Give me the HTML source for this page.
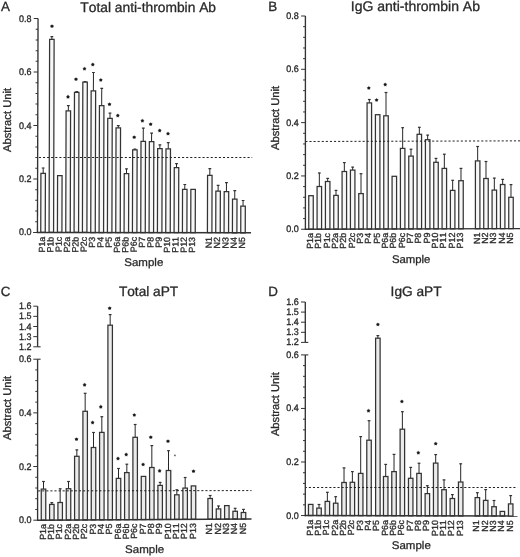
<!DOCTYPE html>
<html><head><meta charset="utf-8"><style>
html,body{margin:0;padding:0;background:#fff;}
svg{display:block;filter:grayscale(1);text-rendering:geometricPrecision;}
text{font-family:"Liberation Sans",sans-serif;font-kerning:none;stroke:#2a2a2a;stroke-width:0.3px;}
</style></head><body>
<svg width="520" height="557" viewBox="0 0 520 557">
<rect width="520" height="557" fill="#fff"/>
<g transform="translate(0 232.30) skewX(-0.160) translate(0 -232.30)">
<line x1="43.00" y1="173.30" x2="43.00" y2="167.80" stroke="#262626" stroke-width="1.00"/>
<line x1="41.60" y1="168.00" x2="44.40" y2="168.00" stroke="#333" stroke-width="1.2"/>
<rect x="40.75" y="173.40" width="4.50" height="59.01" fill="#f7f7f7" stroke="#333" stroke-width="1.25"/>
<line x1="51.33" y1="39.20" x2="51.33" y2="36.50" stroke="#262626" stroke-width="1.00"/>
<line x1="49.93" y1="36.70" x2="52.73" y2="36.70" stroke="#333" stroke-width="1.2"/>
<rect x="49.08" y="39.30" width="4.50" height="193.12" fill="#f7f7f7" stroke="#333" stroke-width="1.25"/>
<rect x="57.42" y="175.60" width="4.50" height="56.84" fill="#f7f7f7" stroke="#333" stroke-width="1.25"/>
<line x1="68.00" y1="110.80" x2="68.00" y2="105.40" stroke="#262626" stroke-width="1.00"/>
<line x1="66.60" y1="105.60" x2="69.40" y2="105.60" stroke="#333" stroke-width="1.2"/>
<rect x="65.75" y="110.90" width="4.50" height="121.55" fill="#f7f7f7" stroke="#333" stroke-width="1.25"/>
<line x1="76.33" y1="92.30" x2="76.33" y2="91.30" stroke="#262626" stroke-width="1.00"/>
<line x1="74.93" y1="91.50" x2="77.73" y2="91.50" stroke="#333" stroke-width="1.2"/>
<rect x="74.08" y="92.40" width="4.50" height="140.07" fill="#f7f7f7" stroke="#333" stroke-width="1.25"/>
<line x1="84.66" y1="82.00" x2="84.66" y2="81.30" stroke="#262626" stroke-width="1.00"/>
<line x1="83.26" y1="81.50" x2="86.06" y2="81.50" stroke="#333" stroke-width="1.2"/>
<rect x="82.41" y="82.10" width="4.50" height="150.38" fill="#f7f7f7" stroke="#333" stroke-width="1.25"/>
<line x1="93.00" y1="90.80" x2="93.00" y2="72.30" stroke="#262626" stroke-width="1.00"/>
<line x1="91.60" y1="72.50" x2="94.40" y2="72.50" stroke="#333" stroke-width="1.2"/>
<rect x="90.75" y="90.90" width="4.50" height="141.60" fill="#f7f7f7" stroke="#333" stroke-width="1.25"/>
<line x1="101.33" y1="105.40" x2="101.33" y2="88.20" stroke="#262626" stroke-width="1.00"/>
<line x1="99.93" y1="88.40" x2="102.73" y2="88.40" stroke="#333" stroke-width="1.2"/>
<rect x="99.08" y="105.50" width="4.50" height="127.01" fill="#f7f7f7" stroke="#333" stroke-width="1.25"/>
<line x1="109.66" y1="118.20" x2="109.66" y2="113.00" stroke="#262626" stroke-width="1.00"/>
<line x1="108.26" y1="113.20" x2="111.06" y2="113.20" stroke="#333" stroke-width="1.2"/>
<rect x="107.41" y="118.30" width="4.50" height="114.23" fill="#f7f7f7" stroke="#333" stroke-width="1.25"/>
<line x1="118.00" y1="127.70" x2="118.00" y2="125.40" stroke="#262626" stroke-width="1.00"/>
<line x1="116.60" y1="125.60" x2="119.40" y2="125.60" stroke="#333" stroke-width="1.2"/>
<rect x="115.75" y="127.80" width="4.50" height="104.74" fill="#f7f7f7" stroke="#333" stroke-width="1.25"/>
<line x1="126.33" y1="173.60" x2="126.33" y2="168.70" stroke="#262626" stroke-width="1.00"/>
<line x1="124.93" y1="168.90" x2="127.73" y2="168.90" stroke="#333" stroke-width="1.2"/>
<rect x="124.08" y="173.70" width="4.50" height="58.86" fill="#f7f7f7" stroke="#333" stroke-width="1.25"/>
<line x1="134.66" y1="149.80" x2="134.66" y2="149.00" stroke="#262626" stroke-width="1.00"/>
<line x1="133.26" y1="149.20" x2="136.06" y2="149.20" stroke="#333" stroke-width="1.2"/>
<rect x="132.41" y="149.90" width="4.50" height="82.67" fill="#f7f7f7" stroke="#333" stroke-width="1.25"/>
<line x1="143.00" y1="141.20" x2="143.00" y2="128.00" stroke="#262626" stroke-width="1.00"/>
<line x1="141.60" y1="128.20" x2="144.40" y2="128.20" stroke="#333" stroke-width="1.2"/>
<rect x="140.75" y="141.30" width="4.50" height="91.29" fill="#f7f7f7" stroke="#333" stroke-width="1.25"/>
<line x1="151.33" y1="141.50" x2="151.33" y2="132.90" stroke="#262626" stroke-width="1.00"/>
<line x1="149.93" y1="133.10" x2="152.73" y2="133.10" stroke="#333" stroke-width="1.2"/>
<rect x="149.08" y="141.60" width="4.50" height="91.00" fill="#f7f7f7" stroke="#333" stroke-width="1.25"/>
<line x1="159.66" y1="148.50" x2="159.66" y2="144.70" stroke="#262626" stroke-width="1.00"/>
<line x1="158.26" y1="144.90" x2="161.06" y2="144.90" stroke="#333" stroke-width="1.2"/>
<rect x="157.41" y="148.60" width="4.50" height="84.02" fill="#f7f7f7" stroke="#333" stroke-width="1.25"/>
<line x1="168.00" y1="148.80" x2="168.00" y2="142.40" stroke="#262626" stroke-width="1.00"/>
<line x1="166.59" y1="142.60" x2="169.40" y2="142.60" stroke="#333" stroke-width="1.2"/>
<rect x="165.75" y="148.90" width="4.50" height="83.73" fill="#f7f7f7" stroke="#333" stroke-width="1.25"/>
<line x1="176.33" y1="167.60" x2="176.33" y2="163.50" stroke="#262626" stroke-width="1.00"/>
<line x1="174.93" y1="163.70" x2="177.73" y2="163.70" stroke="#333" stroke-width="1.2"/>
<rect x="174.08" y="167.70" width="4.50" height="64.95" fill="#f7f7f7" stroke="#333" stroke-width="1.25"/>
<line x1="184.66" y1="189.20" x2="184.66" y2="184.30" stroke="#262626" stroke-width="1.00"/>
<line x1="183.26" y1="184.50" x2="186.06" y2="184.50" stroke="#333" stroke-width="1.2"/>
<rect x="182.41" y="189.30" width="4.50" height="43.36" fill="#f7f7f7" stroke="#333" stroke-width="1.25"/>
<rect x="190.74" y="189.30" width="4.50" height="43.38" fill="#f7f7f7" stroke="#333" stroke-width="1.25"/>
<line x1="209.66" y1="175.30" x2="209.66" y2="168.50" stroke="#262626" stroke-width="1.00"/>
<line x1="208.26" y1="168.70" x2="211.06" y2="168.70" stroke="#333" stroke-width="1.2"/>
<rect x="207.41" y="175.40" width="4.50" height="57.31" fill="#f7f7f7" stroke="#333" stroke-width="1.25"/>
<line x1="217.99" y1="190.90" x2="217.99" y2="185.10" stroke="#262626" stroke-width="1.00"/>
<line x1="216.59" y1="185.30" x2="219.39" y2="185.30" stroke="#333" stroke-width="1.2"/>
<rect x="215.74" y="191.00" width="4.50" height="41.72" fill="#f7f7f7" stroke="#333" stroke-width="1.25"/>
<line x1="226.33" y1="191.40" x2="226.33" y2="182.40" stroke="#262626" stroke-width="1.00"/>
<line x1="224.93" y1="182.60" x2="227.73" y2="182.60" stroke="#333" stroke-width="1.2"/>
<rect x="224.08" y="191.50" width="4.50" height="41.24" fill="#f7f7f7" stroke="#333" stroke-width="1.25"/>
<line x1="234.66" y1="199.00" x2="234.66" y2="190.50" stroke="#262626" stroke-width="1.00"/>
<line x1="233.26" y1="190.70" x2="236.06" y2="190.70" stroke="#333" stroke-width="1.2"/>
<rect x="232.41" y="199.10" width="4.50" height="33.65" fill="#f7f7f7" stroke="#333" stroke-width="1.25"/>
<line x1="242.99" y1="206.00" x2="242.99" y2="200.30" stroke="#262626" stroke-width="1.00"/>
<line x1="241.59" y1="200.50" x2="244.39" y2="200.50" stroke="#333" stroke-width="1.2"/>
<rect x="240.74" y="206.10" width="4.50" height="26.67" fill="#f7f7f7" stroke="#333" stroke-width="1.25"/>
<line x1="37.45" y1="157.50" x2="252.00" y2="157.50" stroke="#222" stroke-width="1" stroke-dasharray="2.10 1.99" stroke-dashoffset="2.84"/>
<line x1="37.45" y1="18.60" x2="37.45" y2="233.00" stroke="#333" stroke-width="1.35"/>
<line x1="36.85" y1="232.40" x2="251.00" y2="232.78" stroke="#333" stroke-width="1.45"/>
<line x1="33.15" y1="232.40" x2="37.45" y2="232.40" stroke="#333" stroke-width="1"/>
<line x1="33.15" y1="178.95" x2="37.45" y2="178.95" stroke="#333" stroke-width="1"/>
<line x1="33.15" y1="125.50" x2="37.45" y2="125.50" stroke="#333" stroke-width="1"/>
<line x1="33.15" y1="72.05" x2="37.45" y2="72.05" stroke="#333" stroke-width="1"/>
<line x1="33.15" y1="18.60" x2="37.45" y2="18.60" stroke="#333" stroke-width="1"/>
<line x1="35.15" y1="221.71" x2="37.45" y2="221.71" stroke="#333" stroke-width="1"/>
<line x1="35.15" y1="211.02" x2="37.45" y2="211.02" stroke="#333" stroke-width="1"/>
<line x1="35.15" y1="200.33" x2="37.45" y2="200.33" stroke="#333" stroke-width="1"/>
<line x1="35.15" y1="189.64" x2="37.45" y2="189.64" stroke="#333" stroke-width="1"/>
<line x1="35.15" y1="168.26" x2="37.45" y2="168.26" stroke="#333" stroke-width="1"/>
<line x1="35.15" y1="157.57" x2="37.45" y2="157.57" stroke="#333" stroke-width="1"/>
<line x1="35.15" y1="146.88" x2="37.45" y2="146.88" stroke="#333" stroke-width="1"/>
<line x1="35.15" y1="136.19" x2="37.45" y2="136.19" stroke="#333" stroke-width="1"/>
<line x1="35.15" y1="114.81" x2="37.45" y2="114.81" stroke="#333" stroke-width="1"/>
<line x1="35.15" y1="104.12" x2="37.45" y2="104.12" stroke="#333" stroke-width="1"/>
<line x1="35.15" y1="93.43" x2="37.45" y2="93.43" stroke="#333" stroke-width="1"/>
<line x1="35.15" y1="82.74" x2="37.45" y2="82.74" stroke="#333" stroke-width="1"/>
<line x1="35.15" y1="61.36" x2="37.45" y2="61.36" stroke="#333" stroke-width="1"/>
<line x1="35.15" y1="50.67" x2="37.45" y2="50.67" stroke="#333" stroke-width="1"/>
<line x1="35.15" y1="39.98" x2="37.45" y2="39.98" stroke="#333" stroke-width="1"/>
<line x1="35.15" y1="29.29" x2="37.45" y2="29.29" stroke="#333" stroke-width="1"/>
<text transform="translate(45.10,236.71) rotate(-90)" font-size="8.9" text-anchor="end" fill="#2a2a2a" >P1a</text>
<text transform="translate(53.43,236.73) rotate(-90)" font-size="8.9" text-anchor="end" fill="#2a2a2a" >P1b</text>
<text transform="translate(61.77,236.74) rotate(-90)" font-size="8.9" text-anchor="end" fill="#2a2a2a" >P1c</text>
<text transform="translate(70.10,236.76) rotate(-90)" font-size="8.9" text-anchor="end" fill="#2a2a2a" >P2a</text>
<text transform="translate(78.43,236.77) rotate(-90)" font-size="8.9" text-anchor="end" fill="#2a2a2a" >P2b</text>
<text transform="translate(86.76,236.79) rotate(-90)" font-size="8.9" text-anchor="end" fill="#2a2a2a" >P2c</text>
<text transform="translate(95.10,236.80) rotate(-90)" font-size="8.9" text-anchor="end" fill="#2a2a2a" >P3</text>
<text transform="translate(103.43,236.82) rotate(-90)" font-size="8.9" text-anchor="end" fill="#2a2a2a" >P4</text>
<text transform="translate(111.76,236.83) rotate(-90)" font-size="8.9" text-anchor="end" fill="#2a2a2a" >P5</text>
<text transform="translate(120.10,236.85) rotate(-90)" font-size="8.9" text-anchor="end" fill="#2a2a2a" >P6a</text>
<text transform="translate(128.43,236.86) rotate(-90)" font-size="8.9" text-anchor="end" fill="#2a2a2a" >P6b</text>
<text transform="translate(136.76,236.88) rotate(-90)" font-size="8.9" text-anchor="end" fill="#2a2a2a" >P6c</text>
<text transform="translate(145.10,236.89) rotate(-90)" font-size="8.9" text-anchor="end" fill="#2a2a2a" >P7</text>
<text transform="translate(153.43,236.91) rotate(-90)" font-size="8.9" text-anchor="end" fill="#2a2a2a" >P8</text>
<text transform="translate(161.76,236.92) rotate(-90)" font-size="8.9" text-anchor="end" fill="#2a2a2a" >P9</text>
<text transform="translate(170.09,236.94) rotate(-90)" font-size="8.9" text-anchor="end" fill="#2a2a2a" >P10</text>
<text transform="translate(178.43,236.95) rotate(-90)" font-size="8.9" text-anchor="end" fill="#2a2a2a" >P11</text>
<text transform="translate(186.76,236.97) rotate(-90)" font-size="8.9" text-anchor="end" fill="#2a2a2a" >P12</text>
<text transform="translate(195.09,236.98) rotate(-90)" font-size="8.9" text-anchor="end" fill="#2a2a2a" >P13</text>
<text transform="translate(211.76,237.01) rotate(-90)" font-size="8.9" text-anchor="end" fill="#2a2a2a" >N1</text>
<text transform="translate(220.09,237.03) rotate(-90)" font-size="8.9" text-anchor="end" fill="#2a2a2a" >N2</text>
<text transform="translate(228.43,237.04) rotate(-90)" font-size="8.9" text-anchor="end" fill="#2a2a2a" >N3</text>
<text transform="translate(236.76,237.06) rotate(-90)" font-size="8.9" text-anchor="end" fill="#2a2a2a" >N4</text>
<text transform="translate(245.09,237.07) rotate(-90)" font-size="8.9" text-anchor="end" fill="#2a2a2a" >N5</text>
</g>
<polygon points="52.00,23.90 52.81,25.08 54.19,25.49 53.31,26.63 53.35,28.06 52.00,27.58 50.65,28.06 50.69,26.63 49.81,25.49 51.19,25.08" fill="#2a2a2a" opacity="0.5"/><circle cx="52.00" cy="26.20" r="1.3" fill="#181818"/>
<polygon points="68.00,94.60 68.81,95.78 70.19,96.19 69.31,97.33 69.35,98.76 68.00,98.28 66.65,98.76 66.69,97.33 65.81,96.19 67.19,95.78" fill="#2a2a2a" opacity="0.5"/><circle cx="68.00" cy="96.90" r="1.3" fill="#181818"/>
<polygon points="76.00,76.90 76.81,78.08 78.19,78.49 77.31,79.63 77.35,81.06 76.00,80.58 74.65,81.06 74.69,79.63 73.81,78.49 75.19,78.08" fill="#2a2a2a" opacity="0.5"/><circle cx="76.00" cy="79.20" r="1.3" fill="#181818"/>
<polygon points="84.50,66.50 85.31,67.68 86.69,68.09 85.81,69.23 85.85,70.66 84.50,70.18 83.15,70.66 83.19,69.23 82.31,68.09 83.69,67.68" fill="#2a2a2a" opacity="0.5"/><circle cx="84.50" cy="68.80" r="1.3" fill="#181818"/>
<polygon points="92.80,62.30 93.61,63.48 94.99,63.89 94.11,65.03 94.15,66.46 92.80,65.98 91.45,66.46 91.49,65.03 90.61,63.89 91.99,63.48" fill="#2a2a2a" opacity="0.5"/><circle cx="92.80" cy="64.60" r="1.3" fill="#181818"/>
<polygon points="100.80,77.70 101.61,78.88 102.99,79.29 102.11,80.43 102.15,81.86 100.80,81.38 99.45,81.86 99.49,80.43 98.61,79.29 99.99,78.88" fill="#2a2a2a" opacity="0.5"/><circle cx="100.80" cy="80.00" r="1.3" fill="#181818"/>
<polygon points="109.50,102.00 110.31,103.18 111.69,103.59 110.81,104.73 110.85,106.16 109.50,105.68 108.15,106.16 108.19,104.73 107.31,103.59 108.69,103.18" fill="#2a2a2a" opacity="0.5"/><circle cx="109.50" cy="104.30" r="1.3" fill="#181818"/>
<polygon points="117.80,113.30 118.61,114.48 119.99,114.89 119.11,116.03 119.15,117.46 117.80,116.98 116.45,117.46 116.49,116.03 115.61,114.89 116.99,114.48" fill="#2a2a2a" opacity="0.5"/><circle cx="117.80" cy="115.60" r="1.3" fill="#181818"/>
<polygon points="134.20,134.90 135.01,136.08 136.39,136.49 135.51,137.63 135.55,139.06 134.20,138.58 132.85,139.06 132.89,137.63 132.01,136.49 133.39,136.08" fill="#2a2a2a" opacity="0.5"/><circle cx="134.20" cy="137.20" r="1.3" fill="#181818"/>
<polygon points="142.40,118.50 143.21,119.68 144.59,120.09 143.71,121.23 143.75,122.66 142.40,122.18 141.05,122.66 141.09,121.23 140.21,120.09 141.59,119.68" fill="#2a2a2a" opacity="0.5"/><circle cx="142.40" cy="120.80" r="1.3" fill="#181818"/>
<polygon points="150.70,121.90 151.51,123.08 152.89,123.49 152.01,124.63 152.05,126.06 150.70,125.58 149.35,126.06 149.39,124.63 148.51,123.49 149.89,123.08" fill="#2a2a2a" opacity="0.5"/><circle cx="150.70" cy="124.20" r="1.3" fill="#181818"/>
<polygon points="159.70,128.30 160.51,129.48 161.89,129.89 161.01,131.03 161.05,132.46 159.70,131.98 158.35,132.46 158.39,131.03 157.51,129.89 158.89,129.48" fill="#2a2a2a" opacity="0.5"/><circle cx="159.70" cy="130.60" r="1.3" fill="#181818"/>
<polygon points="168.00,131.40 168.81,132.58 170.19,132.99 169.31,134.13 169.35,135.56 168.00,135.08 166.65,135.56 166.69,134.13 165.81,132.99 167.19,132.58" fill="#2a2a2a" opacity="0.5"/><circle cx="168.00" cy="133.70" r="1.3" fill="#181818"/>
<text transform="translate(31.45,235.40) scale(1,1.06)" font-size="9" text-anchor="end" fill="#2a2a2a" >0.0</text>
<text transform="translate(31.45,181.95) scale(1,1.06)" font-size="9" text-anchor="end" fill="#2a2a2a" >0.2</text>
<text transform="translate(31.45,128.50) scale(1,1.06)" font-size="9" text-anchor="end" fill="#2a2a2a" >0.4</text>
<text transform="translate(31.45,75.05) scale(1,1.06)" font-size="9" text-anchor="end" fill="#2a2a2a" >0.6</text>
<text transform="translate(31.45,21.60) scale(1,1.06)" font-size="9" text-anchor="end" fill="#2a2a2a" >0.8</text>
<text x="1.00" y="11.20" font-size="13.4" fill="#2a2a2a" stroke="#2a2a2a" stroke-width="0.25" >A</text>
<text x="80.30" y="11.60" font-size="13.80" fill="#2a2a2a" >Total anti-thrombin Ab</text>
<text transform="translate(10.55,120.00) rotate(-90)" font-size="11.2" text-anchor="middle" fill="#2a2a2a" >Abstract Unit</text>
<text x="124.30" y="265.60" font-size="11.1" fill="#2a2a2a"  textLength="39.0" lengthAdjust="spacingAndGlyphs">Sample</text>
<rect x="308.75" y="195.70" width="4.50" height="33.53" fill="#f7f7f7" stroke="#333" stroke-width="1.25"/>
<line x1="319.33" y1="186.40" x2="319.33" y2="172.80" stroke="#262626" stroke-width="1.00"/>
<line x1="317.93" y1="173.00" x2="320.73" y2="173.00" stroke="#333" stroke-width="1.2"/>
<rect x="317.08" y="186.50" width="4.50" height="42.71" fill="#f7f7f7" stroke="#333" stroke-width="1.25"/>
<line x1="327.67" y1="181.40" x2="327.67" y2="178.20" stroke="#262626" stroke-width="1.00"/>
<line x1="326.27" y1="178.40" x2="329.07" y2="178.40" stroke="#333" stroke-width="1.2"/>
<rect x="325.42" y="181.50" width="4.50" height="47.68" fill="#f7f7f7" stroke="#333" stroke-width="1.25"/>
<line x1="336.00" y1="195.30" x2="336.00" y2="190.20" stroke="#262626" stroke-width="1.00"/>
<line x1="334.60" y1="190.40" x2="337.40" y2="190.40" stroke="#333" stroke-width="1.2"/>
<rect x="333.75" y="195.40" width="4.50" height="33.76" fill="#f7f7f7" stroke="#333" stroke-width="1.25"/>
<line x1="344.33" y1="171.40" x2="344.33" y2="162.40" stroke="#262626" stroke-width="1.00"/>
<line x1="342.93" y1="162.60" x2="345.73" y2="162.60" stroke="#333" stroke-width="1.2"/>
<rect x="342.08" y="171.50" width="4.50" height="57.63" fill="#f7f7f7" stroke="#333" stroke-width="1.25"/>
<line x1="352.67" y1="170.00" x2="352.67" y2="166.90" stroke="#262626" stroke-width="1.00"/>
<line x1="351.27" y1="167.10" x2="354.06" y2="167.10" stroke="#333" stroke-width="1.2"/>
<rect x="350.42" y="170.10" width="4.50" height="59.01" fill="#f7f7f7" stroke="#333" stroke-width="1.25"/>
<line x1="361.00" y1="193.50" x2="361.00" y2="173.50" stroke="#262626" stroke-width="1.00"/>
<line x1="359.60" y1="173.70" x2="362.40" y2="173.70" stroke="#333" stroke-width="1.2"/>
<rect x="358.75" y="193.60" width="4.50" height="35.48" fill="#f7f7f7" stroke="#333" stroke-width="1.25"/>
<line x1="369.33" y1="102.80" x2="369.33" y2="99.30" stroke="#262626" stroke-width="1.00"/>
<line x1="367.93" y1="99.50" x2="370.73" y2="99.50" stroke="#333" stroke-width="1.2"/>
<rect x="367.08" y="102.90" width="4.50" height="126.16" fill="#f7f7f7" stroke="#333" stroke-width="1.25"/>
<rect x="375.41" y="114.70" width="4.50" height="114.33" fill="#f7f7f7" stroke="#333" stroke-width="1.25"/>
<line x1="386.00" y1="115.70" x2="386.00" y2="92.30" stroke="#262626" stroke-width="1.00"/>
<line x1="384.60" y1="92.50" x2="387.40" y2="92.50" stroke="#333" stroke-width="1.2"/>
<rect x="383.75" y="115.80" width="4.50" height="113.21" fill="#f7f7f7" stroke="#333" stroke-width="1.25"/>
<rect x="392.08" y="176.30" width="4.50" height="52.68" fill="#f7f7f7" stroke="#333" stroke-width="1.25"/>
<line x1="402.66" y1="148.30" x2="402.66" y2="127.50" stroke="#262626" stroke-width="1.00"/>
<line x1="401.26" y1="127.70" x2="404.06" y2="127.70" stroke="#333" stroke-width="1.2"/>
<rect x="400.41" y="148.40" width="4.50" height="80.56" fill="#f7f7f7" stroke="#333" stroke-width="1.25"/>
<line x1="411.00" y1="156.00" x2="411.00" y2="149.00" stroke="#262626" stroke-width="1.00"/>
<line x1="409.60" y1="149.20" x2="412.40" y2="149.20" stroke="#333" stroke-width="1.2"/>
<rect x="408.75" y="156.10" width="4.50" height="72.83" fill="#f7f7f7" stroke="#333" stroke-width="1.25"/>
<line x1="419.33" y1="134.20" x2="419.33" y2="127.10" stroke="#262626" stroke-width="1.00"/>
<line x1="417.93" y1="127.30" x2="420.73" y2="127.30" stroke="#333" stroke-width="1.2"/>
<rect x="417.08" y="134.30" width="4.50" height="94.61" fill="#f7f7f7" stroke="#333" stroke-width="1.25"/>
<line x1="427.66" y1="139.60" x2="427.66" y2="134.90" stroke="#262626" stroke-width="1.00"/>
<line x1="426.26" y1="135.10" x2="429.06" y2="135.10" stroke="#333" stroke-width="1.2"/>
<rect x="425.41" y="139.70" width="4.50" height="89.18" fill="#f7f7f7" stroke="#333" stroke-width="1.25"/>
<line x1="436.00" y1="162.20" x2="436.00" y2="158.20" stroke="#262626" stroke-width="1.00"/>
<line x1="434.60" y1="158.40" x2="437.39" y2="158.40" stroke="#333" stroke-width="1.2"/>
<rect x="433.75" y="162.30" width="4.50" height="66.56" fill="#f7f7f7" stroke="#333" stroke-width="1.25"/>
<line x1="444.33" y1="168.30" x2="444.33" y2="154.00" stroke="#262626" stroke-width="1.00"/>
<line x1="442.93" y1="154.20" x2="445.73" y2="154.20" stroke="#333" stroke-width="1.2"/>
<rect x="442.08" y="168.40" width="4.50" height="60.43" fill="#f7f7f7" stroke="#333" stroke-width="1.25"/>
<line x1="452.66" y1="190.30" x2="452.66" y2="180.10" stroke="#262626" stroke-width="1.00"/>
<line x1="451.26" y1="180.30" x2="454.06" y2="180.30" stroke="#333" stroke-width="1.2"/>
<rect x="450.41" y="190.40" width="4.50" height="38.41" fill="#f7f7f7" stroke="#333" stroke-width="1.25"/>
<line x1="460.99" y1="180.60" x2="460.99" y2="168.20" stroke="#262626" stroke-width="1.00"/>
<line x1="459.59" y1="168.40" x2="462.39" y2="168.40" stroke="#333" stroke-width="1.2"/>
<rect x="458.74" y="180.70" width="4.50" height="48.08" fill="#f7f7f7" stroke="#333" stroke-width="1.25"/>
<line x1="477.66" y1="160.80" x2="477.66" y2="146.30" stroke="#262626" stroke-width="1.00"/>
<line x1="476.26" y1="146.50" x2="479.06" y2="146.50" stroke="#333" stroke-width="1.2"/>
<rect x="475.41" y="160.90" width="4.50" height="67.83" fill="#f7f7f7" stroke="#333" stroke-width="1.25"/>
<line x1="485.99" y1="178.40" x2="485.99" y2="161.30" stroke="#262626" stroke-width="1.00"/>
<line x1="484.59" y1="161.50" x2="487.39" y2="161.50" stroke="#333" stroke-width="1.2"/>
<rect x="483.74" y="178.50" width="4.50" height="50.21" fill="#f7f7f7" stroke="#333" stroke-width="1.25"/>
<line x1="494.33" y1="190.00" x2="494.33" y2="177.90" stroke="#262626" stroke-width="1.00"/>
<line x1="492.93" y1="178.10" x2="495.73" y2="178.10" stroke="#333" stroke-width="1.2"/>
<rect x="492.08" y="190.10" width="4.50" height="38.58" fill="#f7f7f7" stroke="#333" stroke-width="1.25"/>
<line x1="502.66" y1="184.40" x2="502.66" y2="179.20" stroke="#262626" stroke-width="1.00"/>
<line x1="501.26" y1="179.40" x2="504.06" y2="179.40" stroke="#333" stroke-width="1.2"/>
<rect x="500.41" y="184.50" width="4.50" height="44.16" fill="#f7f7f7" stroke="#333" stroke-width="1.25"/>
<line x1="510.99" y1="197.20" x2="510.99" y2="184.40" stroke="#262626" stroke-width="1.00"/>
<line x1="509.59" y1="184.60" x2="512.39" y2="184.60" stroke="#333" stroke-width="1.2"/>
<rect x="508.74" y="197.30" width="4.50" height="31.33" fill="#f7f7f7" stroke="#333" stroke-width="1.25"/>
<line x1="305.40" y1="141.50" x2="520.00" y2="140.86" stroke="#222" stroke-width="1" stroke-dasharray="2.10 1.99" stroke-dashoffset="0.04"/>
<line x1="305.40" y1="16.00" x2="305.40" y2="229.85" stroke="#333" stroke-width="1.35"/>
<line x1="304.80" y1="229.25" x2="520.00" y2="228.61" stroke="#333" stroke-width="1.45"/>
<line x1="301.10" y1="229.25" x2="305.40" y2="229.25" stroke="#333" stroke-width="1"/>
<line x1="301.10" y1="175.94" x2="305.40" y2="175.94" stroke="#333" stroke-width="1"/>
<line x1="301.10" y1="122.62" x2="305.40" y2="122.62" stroke="#333" stroke-width="1"/>
<line x1="301.10" y1="69.31" x2="305.40" y2="69.31" stroke="#333" stroke-width="1"/>
<line x1="301.10" y1="16.00" x2="305.40" y2="16.00" stroke="#333" stroke-width="1"/>
<line x1="303.10" y1="218.59" x2="305.40" y2="218.59" stroke="#333" stroke-width="1"/>
<line x1="303.10" y1="207.93" x2="305.40" y2="207.93" stroke="#333" stroke-width="1"/>
<line x1="303.10" y1="197.26" x2="305.40" y2="197.26" stroke="#333" stroke-width="1"/>
<line x1="303.10" y1="186.60" x2="305.40" y2="186.60" stroke="#333" stroke-width="1"/>
<line x1="303.10" y1="165.28" x2="305.40" y2="165.28" stroke="#333" stroke-width="1"/>
<line x1="303.10" y1="154.61" x2="305.40" y2="154.61" stroke="#333" stroke-width="1"/>
<line x1="303.10" y1="143.95" x2="305.40" y2="143.95" stroke="#333" stroke-width="1"/>
<line x1="303.10" y1="133.29" x2="305.40" y2="133.29" stroke="#333" stroke-width="1"/>
<line x1="303.10" y1="111.96" x2="305.40" y2="111.96" stroke="#333" stroke-width="1"/>
<line x1="303.10" y1="101.30" x2="305.40" y2="101.30" stroke="#333" stroke-width="1"/>
<line x1="303.10" y1="90.64" x2="305.40" y2="90.64" stroke="#333" stroke-width="1"/>
<line x1="303.10" y1="79.97" x2="305.40" y2="79.97" stroke="#333" stroke-width="1"/>
<line x1="303.10" y1="58.65" x2="305.40" y2="58.65" stroke="#333" stroke-width="1"/>
<line x1="303.10" y1="47.99" x2="305.40" y2="47.99" stroke="#333" stroke-width="1"/>
<line x1="303.10" y1="37.32" x2="305.40" y2="37.32" stroke="#333" stroke-width="1"/>
<line x1="303.10" y1="26.66" x2="305.40" y2="26.66" stroke="#333" stroke-width="1"/>
<text transform="translate(313.10,233.03) rotate(-90)" font-size="8.9" text-anchor="end" fill="#2a2a2a" >P1a</text>
<text transform="translate(321.43,233.00) rotate(-90)" font-size="8.9" text-anchor="end" fill="#2a2a2a" >P1b</text>
<text transform="translate(329.77,232.98) rotate(-90)" font-size="8.9" text-anchor="end" fill="#2a2a2a" >P1c</text>
<text transform="translate(338.10,232.95) rotate(-90)" font-size="8.9" text-anchor="end" fill="#2a2a2a" >P2a</text>
<text transform="translate(346.43,232.93) rotate(-90)" font-size="8.9" text-anchor="end" fill="#2a2a2a" >P2b</text>
<text transform="translate(354.77,232.90) rotate(-90)" font-size="8.9" text-anchor="end" fill="#2a2a2a" >P2c</text>
<text transform="translate(363.10,232.88) rotate(-90)" font-size="8.9" text-anchor="end" fill="#2a2a2a" >P3</text>
<text transform="translate(371.43,232.85) rotate(-90)" font-size="8.9" text-anchor="end" fill="#2a2a2a" >P4</text>
<text transform="translate(379.76,232.83) rotate(-90)" font-size="8.9" text-anchor="end" fill="#2a2a2a" >P5</text>
<text transform="translate(388.10,232.80) rotate(-90)" font-size="8.9" text-anchor="end" fill="#2a2a2a" >P6a</text>
<text transform="translate(396.43,232.78) rotate(-90)" font-size="8.9" text-anchor="end" fill="#2a2a2a" >P6b</text>
<text transform="translate(404.76,232.75) rotate(-90)" font-size="8.9" text-anchor="end" fill="#2a2a2a" >P6c</text>
<text transform="translate(413.10,232.73) rotate(-90)" font-size="8.9" text-anchor="end" fill="#2a2a2a" >P7</text>
<text transform="translate(421.43,232.70) rotate(-90)" font-size="8.9" text-anchor="end" fill="#2a2a2a" >P8</text>
<text transform="translate(429.76,232.68) rotate(-90)" font-size="8.9" text-anchor="end" fill="#2a2a2a" >P9</text>
<text transform="translate(438.10,232.65) rotate(-90)" font-size="8.9" text-anchor="end" fill="#2a2a2a" >P10</text>
<text transform="translate(446.43,232.63) rotate(-90)" font-size="8.9" text-anchor="end" fill="#2a2a2a" >P11</text>
<text transform="translate(454.76,232.60) rotate(-90)" font-size="8.9" text-anchor="end" fill="#2a2a2a" >P12</text>
<text transform="translate(463.09,232.58) rotate(-90)" font-size="8.9" text-anchor="end" fill="#2a2a2a" >P13</text>
<text transform="translate(479.76,232.53) rotate(-90)" font-size="8.9" text-anchor="end" fill="#2a2a2a" >N1</text>
<text transform="translate(488.09,232.50) rotate(-90)" font-size="8.9" text-anchor="end" fill="#2a2a2a" >N2</text>
<text transform="translate(496.43,232.48) rotate(-90)" font-size="8.9" text-anchor="end" fill="#2a2a2a" >N3</text>
<text transform="translate(504.76,232.45) rotate(-90)" font-size="8.9" text-anchor="end" fill="#2a2a2a" >N4</text>
<text transform="translate(513.09,232.43) rotate(-90)" font-size="8.9" text-anchor="end" fill="#2a2a2a" >N5</text>
<polygon points="368.80,85.70 369.61,86.88 370.99,87.29 370.11,88.43 370.15,89.86 368.80,89.38 367.45,89.86 367.49,88.43 366.61,87.29 367.99,86.88" fill="#2a2a2a" opacity="0.5"/><circle cx="368.80" cy="88.00" r="1.3" fill="#181818"/>
<polygon points="376.60,97.70 377.41,98.88 378.79,99.29 377.91,100.43 377.95,101.86 376.60,101.38 375.25,101.86 375.29,100.43 374.41,99.29 375.79,98.88" fill="#2a2a2a" opacity="0.5"/><circle cx="376.60" cy="100.00" r="1.3" fill="#181818"/>
<polygon points="385.20,82.30 386.01,83.48 387.39,83.89 386.51,85.03 386.55,86.46 385.20,85.98 383.85,86.46 383.89,85.03 383.01,83.89 384.39,83.48" fill="#2a2a2a" opacity="0.5"/><circle cx="385.20" cy="84.60" r="1.3" fill="#181818"/>
<text transform="translate(298.80,232.25) scale(1,1.06)" font-size="9" text-anchor="end" fill="#2a2a2a" >0.0</text>
<text transform="translate(298.80,178.94) scale(1,1.06)" font-size="9" text-anchor="end" fill="#2a2a2a" >0.2</text>
<text transform="translate(298.80,125.62) scale(1,1.06)" font-size="9" text-anchor="end" fill="#2a2a2a" >0.4</text>
<text transform="translate(298.80,72.31) scale(1,1.06)" font-size="9" text-anchor="end" fill="#2a2a2a" >0.6</text>
<text transform="translate(298.80,19.00) scale(1,1.06)" font-size="9" text-anchor="end" fill="#2a2a2a" >0.8</text>
<text x="268.30" y="11.20" font-size="13.4" fill="#2a2a2a" stroke="#2a2a2a" stroke-width="0.25" >B</text>
<text x="350.80" y="11.00" font-size="14.00" fill="#2a2a2a" >IgG anti-thrombin Ab</text>
<text transform="translate(278.55,117.90) rotate(-90)" font-size="11.2" text-anchor="middle" fill="#2a2a2a" >Abstract Unit</text>
<text x="391.90" y="263.10" font-size="11.1" fill="#2a2a2a"  textLength="38.5" lengthAdjust="spacingAndGlyphs">Sample</text>
<line x1="43.50" y1="489.00" x2="43.50" y2="481.30" stroke="#262626" stroke-width="1.00"/>
<line x1="42.10" y1="481.50" x2="44.90" y2="481.50" stroke="#333" stroke-width="1.2"/>
<rect x="41.25" y="489.10" width="4.50" height="31.07" fill="#ebebeb" stroke="#333" stroke-width="1.25"/>
<line x1="51.83" y1="504.30" x2="51.83" y2="502.40" stroke="#262626" stroke-width="1.00"/>
<line x1="50.43" y1="502.60" x2="53.23" y2="502.60" stroke="#333" stroke-width="1.2"/>
<rect x="49.58" y="504.40" width="4.50" height="15.72" fill="#ebebeb" stroke="#333" stroke-width="1.25"/>
<line x1="60.17" y1="502.40" x2="60.17" y2="488.60" stroke="#262626" stroke-width="1.00"/>
<line x1="58.77" y1="488.80" x2="61.57" y2="488.80" stroke="#333" stroke-width="1.2"/>
<rect x="57.92" y="502.50" width="4.50" height="17.57" fill="#ebebeb" stroke="#333" stroke-width="1.25"/>
<line x1="68.50" y1="488.60" x2="68.50" y2="481.30" stroke="#262626" stroke-width="1.00"/>
<line x1="67.10" y1="481.50" x2="69.90" y2="481.50" stroke="#333" stroke-width="1.2"/>
<rect x="66.25" y="488.70" width="4.50" height="31.32" fill="#ebebeb" stroke="#333" stroke-width="1.25"/>
<line x1="76.83" y1="456.20" x2="76.83" y2="449.70" stroke="#262626" stroke-width="1.00"/>
<line x1="75.43" y1="449.90" x2="78.23" y2="449.90" stroke="#333" stroke-width="1.2"/>
<rect x="74.58" y="456.30" width="4.50" height="63.67" fill="#ebebeb" stroke="#333" stroke-width="1.25"/>
<line x1="85.16" y1="411.20" x2="85.16" y2="393.10" stroke="#262626" stroke-width="1.00"/>
<line x1="83.76" y1="393.30" x2="86.56" y2="393.30" stroke="#333" stroke-width="1.2"/>
<rect x="82.91" y="411.30" width="4.50" height="108.62" fill="#ebebeb" stroke="#333" stroke-width="1.25"/>
<line x1="93.50" y1="447.40" x2="93.50" y2="432.30" stroke="#262626" stroke-width="1.00"/>
<line x1="92.10" y1="432.50" x2="94.90" y2="432.50" stroke="#333" stroke-width="1.2"/>
<rect x="91.25" y="447.50" width="4.50" height="72.38" fill="#ebebeb" stroke="#333" stroke-width="1.25"/>
<line x1="101.83" y1="432.30" x2="101.83" y2="416.50" stroke="#262626" stroke-width="1.00"/>
<line x1="100.43" y1="416.70" x2="103.23" y2="416.70" stroke="#333" stroke-width="1.2"/>
<rect x="99.58" y="432.40" width="4.50" height="87.43" fill="#ebebeb" stroke="#333" stroke-width="1.25"/>
<line x1="110.16" y1="325.10" x2="110.16" y2="314.40" stroke="#262626" stroke-width="1.00"/>
<line x1="108.76" y1="314.60" x2="111.56" y2="314.60" stroke="#333" stroke-width="1.2"/>
<rect x="107.91" y="325.20" width="4.50" height="194.58" fill="#ebebeb" stroke="#333" stroke-width="1.25"/>
<line x1="118.50" y1="478.30" x2="118.50" y2="468.30" stroke="#262626" stroke-width="1.00"/>
<line x1="117.10" y1="468.50" x2="119.90" y2="468.50" stroke="#333" stroke-width="1.2"/>
<rect x="116.25" y="478.40" width="4.50" height="41.33" fill="#ebebeb" stroke="#333" stroke-width="1.25"/>
<line x1="126.83" y1="472.50" x2="126.83" y2="464.00" stroke="#262626" stroke-width="1.00"/>
<line x1="125.43" y1="464.20" x2="128.23" y2="464.20" stroke="#333" stroke-width="1.2"/>
<rect x="124.58" y="472.60" width="4.50" height="47.08" fill="#ebebeb" stroke="#333" stroke-width="1.25"/>
<line x1="135.16" y1="437.20" x2="135.16" y2="424.30" stroke="#262626" stroke-width="1.00"/>
<line x1="133.76" y1="424.50" x2="136.56" y2="424.50" stroke="#333" stroke-width="1.2"/>
<rect x="132.91" y="437.30" width="4.50" height="82.33" fill="#ebebeb" stroke="#333" stroke-width="1.25"/>
<rect x="141.25" y="476.40" width="4.50" height="43.19" fill="#ebebeb" stroke="#333" stroke-width="1.25"/>
<line x1="151.83" y1="467.40" x2="151.83" y2="445.40" stroke="#262626" stroke-width="1.00"/>
<line x1="150.43" y1="445.60" x2="153.23" y2="445.60" stroke="#333" stroke-width="1.2"/>
<rect x="149.58" y="467.50" width="4.50" height="52.04" fill="#ebebeb" stroke="#333" stroke-width="1.25"/>
<line x1="160.16" y1="485.30" x2="160.16" y2="482.20" stroke="#262626" stroke-width="1.00"/>
<line x1="158.76" y1="482.40" x2="161.56" y2="482.40" stroke="#333" stroke-width="1.2"/>
<rect x="157.91" y="485.40" width="4.50" height="34.09" fill="#ebebeb" stroke="#333" stroke-width="1.25"/>
<line x1="168.50" y1="470.40" x2="168.50" y2="450.50" stroke="#262626" stroke-width="1.00"/>
<line x1="167.09" y1="450.70" x2="169.90" y2="450.70" stroke="#333" stroke-width="1.2"/>
<rect x="166.25" y="470.50" width="4.50" height="48.94" fill="#ebebeb" stroke="#333" stroke-width="1.25"/>
<line x1="176.83" y1="494.70" x2="176.83" y2="489.60" stroke="#262626" stroke-width="1.00"/>
<line x1="175.43" y1="489.80" x2="178.23" y2="489.80" stroke="#333" stroke-width="1.2"/>
<rect x="174.58" y="494.80" width="4.50" height="24.59" fill="#ebebeb" stroke="#333" stroke-width="1.25"/>
<line x1="185.16" y1="488.00" x2="185.16" y2="477.30" stroke="#262626" stroke-width="1.00"/>
<line x1="183.76" y1="477.50" x2="186.56" y2="477.50" stroke="#333" stroke-width="1.2"/>
<rect x="182.91" y="488.10" width="4.50" height="31.24" fill="#ebebeb" stroke="#333" stroke-width="1.25"/>
<rect x="191.24" y="485.90" width="4.50" height="33.40" fill="#ebebeb" stroke="#333" stroke-width="1.25"/>
<line x1="210.16" y1="498.40" x2="210.16" y2="495.30" stroke="#262626" stroke-width="1.00"/>
<line x1="208.76" y1="495.50" x2="211.56" y2="495.50" stroke="#333" stroke-width="1.2"/>
<rect x="207.91" y="498.50" width="4.50" height="20.70" fill="#ebebeb" stroke="#333" stroke-width="1.25"/>
<line x1="218.49" y1="508.80" x2="218.49" y2="505.80" stroke="#262626" stroke-width="1.00"/>
<line x1="217.09" y1="506.00" x2="219.89" y2="506.00" stroke="#333" stroke-width="1.2"/>
<rect x="216.24" y="508.90" width="4.50" height="10.25" fill="#ebebeb" stroke="#333" stroke-width="1.25"/>
<rect x="224.58" y="505.60" width="4.50" height="13.50" fill="#ebebeb" stroke="#333" stroke-width="1.25"/>
<line x1="235.16" y1="511.20" x2="235.16" y2="508.10" stroke="#262626" stroke-width="1.00"/>
<line x1="233.76" y1="508.30" x2="236.56" y2="508.30" stroke="#333" stroke-width="1.2"/>
<rect x="232.91" y="511.30" width="4.50" height="7.75" fill="#ebebeb" stroke="#333" stroke-width="1.25"/>
<line x1="243.49" y1="512.40" x2="243.49" y2="509.20" stroke="#262626" stroke-width="1.00"/>
<line x1="242.09" y1="509.40" x2="244.89" y2="509.40" stroke="#333" stroke-width="1.2"/>
<rect x="241.24" y="512.50" width="4.50" height="6.51" fill="#ebebeb" stroke="#333" stroke-width="1.25"/>
<line x1="37.60" y1="490.90" x2="251.50" y2="490.58" stroke="#222" stroke-width="1" stroke-dasharray="2.10 1.98" stroke-dashoffset="3.54"/>
<line x1="37.60" y1="306.20" x2="37.60" y2="346.80" stroke="#333" stroke-width="1.35"/>
<line x1="37.60" y1="359.20" x2="37.60" y2="520.80" stroke="#333" stroke-width="1.35"/>
<line x1="37.60" y1="346.80" x2="40.60" y2="346.80" stroke="#333" stroke-width="1.1"/>
<line x1="37.60" y1="359.20" x2="40.60" y2="359.20" stroke="#333" stroke-width="1.1"/>
<line x1="37.00" y1="520.20" x2="251.50" y2="518.96" stroke="#333" stroke-width="1.45"/>
<line x1="33.30" y1="520.20" x2="37.60" y2="520.20" stroke="#333" stroke-width="1"/>
<line x1="33.30" y1="466.53" x2="37.60" y2="466.53" stroke="#333" stroke-width="1"/>
<line x1="33.30" y1="412.87" x2="37.60" y2="412.87" stroke="#333" stroke-width="1"/>
<line x1="33.30" y1="359.20" x2="37.60" y2="359.20" stroke="#333" stroke-width="1"/>
<line x1="33.30" y1="306.20" x2="37.60" y2="306.20" stroke="#333" stroke-width="1"/>
<line x1="33.30" y1="316.35" x2="37.60" y2="316.35" stroke="#333" stroke-width="1"/>
<line x1="33.30" y1="326.50" x2="37.60" y2="326.50" stroke="#333" stroke-width="1"/>
<line x1="33.30" y1="336.65" x2="37.60" y2="336.65" stroke="#333" stroke-width="1"/>
<line x1="33.30" y1="346.80" x2="37.60" y2="346.80" stroke="#333" stroke-width="1"/>
<line x1="35.30" y1="509.47" x2="37.60" y2="509.47" stroke="#333" stroke-width="1"/>
<line x1="35.30" y1="498.73" x2="37.60" y2="498.73" stroke="#333" stroke-width="1"/>
<line x1="35.30" y1="488.00" x2="37.60" y2="488.00" stroke="#333" stroke-width="1"/>
<line x1="35.30" y1="477.27" x2="37.60" y2="477.27" stroke="#333" stroke-width="1"/>
<line x1="35.30" y1="455.80" x2="37.60" y2="455.80" stroke="#333" stroke-width="1"/>
<line x1="35.30" y1="445.07" x2="37.60" y2="445.07" stroke="#333" stroke-width="1"/>
<line x1="35.30" y1="434.33" x2="37.60" y2="434.33" stroke="#333" stroke-width="1"/>
<line x1="35.30" y1="423.60" x2="37.60" y2="423.60" stroke="#333" stroke-width="1"/>
<line x1="35.30" y1="402.13" x2="37.60" y2="402.13" stroke="#333" stroke-width="1"/>
<line x1="35.30" y1="391.40" x2="37.60" y2="391.40" stroke="#333" stroke-width="1"/>
<line x1="35.30" y1="380.67" x2="37.60" y2="380.67" stroke="#333" stroke-width="1"/>
<line x1="35.30" y1="369.93" x2="37.60" y2="369.93" stroke="#333" stroke-width="1"/>
<text transform="translate(45.60,524.05) rotate(-90)" font-size="8.9" text-anchor="end" fill="#2a2a2a" >P1a</text>
<text transform="translate(53.93,524.01) rotate(-90)" font-size="8.9" text-anchor="end" fill="#2a2a2a" >P1b</text>
<text transform="translate(62.27,523.96) rotate(-90)" font-size="8.9" text-anchor="end" fill="#2a2a2a" >P1c</text>
<text transform="translate(70.60,523.91) rotate(-90)" font-size="8.9" text-anchor="end" fill="#2a2a2a" >P2a</text>
<text transform="translate(78.93,523.86) rotate(-90)" font-size="8.9" text-anchor="end" fill="#2a2a2a" >P2b</text>
<text transform="translate(87.26,523.81) rotate(-90)" font-size="8.9" text-anchor="end" fill="#2a2a2a" >P2c</text>
<text transform="translate(95.60,523.76) rotate(-90)" font-size="8.9" text-anchor="end" fill="#2a2a2a" >P3</text>
<text transform="translate(103.93,523.72) rotate(-90)" font-size="8.9" text-anchor="end" fill="#2a2a2a" >P4</text>
<text transform="translate(112.26,523.67) rotate(-90)" font-size="8.9" text-anchor="end" fill="#2a2a2a" >P5</text>
<text transform="translate(120.60,523.62) rotate(-90)" font-size="8.9" text-anchor="end" fill="#2a2a2a" >P6a</text>
<text transform="translate(128.93,523.57) rotate(-90)" font-size="8.9" text-anchor="end" fill="#2a2a2a" >P6b</text>
<text transform="translate(137.26,523.52) rotate(-90)" font-size="8.9" text-anchor="end" fill="#2a2a2a" >P6c</text>
<text transform="translate(145.60,523.47) rotate(-90)" font-size="8.9" text-anchor="end" fill="#2a2a2a" >P7</text>
<text transform="translate(153.93,523.43) rotate(-90)" font-size="8.9" text-anchor="end" fill="#2a2a2a" >P8</text>
<text transform="translate(162.26,523.38) rotate(-90)" font-size="8.9" text-anchor="end" fill="#2a2a2a" >P9</text>
<text transform="translate(170.59,523.33) rotate(-90)" font-size="8.9" text-anchor="end" fill="#2a2a2a" >P10</text>
<text transform="translate(178.93,523.28) rotate(-90)" font-size="8.9" text-anchor="end" fill="#2a2a2a" >P11</text>
<text transform="translate(187.26,523.23) rotate(-90)" font-size="8.9" text-anchor="end" fill="#2a2a2a" >P12</text>
<text transform="translate(195.59,523.18) rotate(-90)" font-size="8.9" text-anchor="end" fill="#2a2a2a" >P13</text>
<text transform="translate(212.26,523.09) rotate(-90)" font-size="8.9" text-anchor="end" fill="#2a2a2a" >N1</text>
<text transform="translate(220.59,523.04) rotate(-90)" font-size="8.9" text-anchor="end" fill="#2a2a2a" >N2</text>
<text transform="translate(228.93,522.99) rotate(-90)" font-size="8.9" text-anchor="end" fill="#2a2a2a" >N3</text>
<text transform="translate(237.26,522.94) rotate(-90)" font-size="8.9" text-anchor="end" fill="#2a2a2a" >N4</text>
<text transform="translate(245.59,522.89) rotate(-90)" font-size="8.9" text-anchor="end" fill="#2a2a2a" >N5</text>
<polygon points="76.50,436.90 77.31,438.08 78.69,438.49 77.81,439.63 77.85,441.06 76.50,440.58 75.15,441.06 75.19,439.63 74.31,438.49 75.69,438.08" fill="#2a2a2a" opacity="0.5"/><circle cx="76.50" cy="439.20" r="1.3" fill="#181818"/>
<polygon points="84.60,382.60 85.41,383.78 86.79,384.19 85.91,385.33 85.95,386.76 84.60,386.28 83.25,386.76 83.29,385.33 82.41,384.19 83.79,383.78" fill="#2a2a2a" opacity="0.5"/><circle cx="84.60" cy="384.90" r="1.3" fill="#181818"/>
<polygon points="92.60,420.30 93.41,421.48 94.79,421.89 93.91,423.03 93.95,424.46 92.60,423.98 91.25,424.46 91.29,423.03 90.41,421.89 91.79,421.48" fill="#2a2a2a" opacity="0.5"/><circle cx="92.60" cy="422.60" r="1.3" fill="#181818"/>
<polygon points="100.80,404.60 101.61,405.78 102.99,406.19 102.11,407.33 102.15,408.76 100.80,408.28 99.45,408.76 99.49,407.33 98.61,406.19 99.99,405.78" fill="#2a2a2a" opacity="0.5"/><circle cx="100.80" cy="406.90" r="1.3" fill="#181818"/>
<polygon points="109.70,305.90 110.51,307.08 111.89,307.49 111.01,308.63 111.05,310.06 109.70,309.58 108.35,310.06 108.39,308.63 107.51,307.49 108.89,307.08" fill="#2a2a2a" opacity="0.5"/><circle cx="109.70" cy="308.20" r="1.3" fill="#181818"/>
<polygon points="118.00,456.30 118.81,457.48 120.19,457.89 119.31,459.03 119.35,460.46 118.00,459.98 116.65,460.46 116.69,459.03 115.81,457.89 117.19,457.48" fill="#2a2a2a" opacity="0.5"/><circle cx="118.00" cy="458.60" r="1.3" fill="#181818"/>
<polygon points="126.20,452.30 127.01,453.48 128.39,453.89 127.51,455.03 127.55,456.46 126.20,455.98 124.85,456.46 124.89,455.03 124.01,453.89 125.39,453.48" fill="#2a2a2a" opacity="0.5"/><circle cx="126.20" cy="454.60" r="1.3" fill="#181818"/>
<polygon points="134.30,412.70 135.11,413.88 136.49,414.29 135.61,415.43 135.65,416.86 134.30,416.38 132.95,416.86 132.99,415.43 132.11,414.29 133.49,413.88" fill="#2a2a2a" opacity="0.5"/><circle cx="134.30" cy="415.00" r="1.3" fill="#181818"/>
<polygon points="143.10,462.20 143.91,463.38 145.29,463.79 144.41,464.93 144.45,466.36 143.10,465.88 141.75,466.36 141.79,464.93 140.91,463.79 142.29,463.38" fill="#2a2a2a" opacity="0.5"/><circle cx="143.10" cy="464.50" r="1.3" fill="#181818"/>
<polygon points="150.80,434.90 151.61,436.08 152.99,436.49 152.11,437.63 152.15,439.06 150.80,438.58 149.45,439.06 149.49,437.63 148.61,436.49 149.99,436.08" fill="#2a2a2a" opacity="0.5"/><circle cx="150.80" cy="437.20" r="1.3" fill="#181818"/>
<polygon points="159.60,468.60 160.41,469.78 161.79,470.19 160.91,471.33 160.95,472.76 159.60,472.28 158.25,472.76 158.29,471.33 157.41,470.19 158.79,469.78" fill="#2a2a2a" opacity="0.5"/><circle cx="159.60" cy="470.90" r="1.3" fill="#181818"/>
<polygon points="168.00,438.90 168.81,440.08 170.19,440.49 169.31,441.63 169.35,443.06 168.00,442.58 166.65,443.06 166.69,441.63 165.81,440.49 167.19,440.08" fill="#2a2a2a" opacity="0.5"/><circle cx="168.00" cy="441.20" r="1.3" fill="#181818"/>
<polygon points="193.50,468.90 194.31,470.08 195.69,470.49 194.81,471.63 194.85,473.06 193.50,472.58 192.15,473.06 192.19,471.63 191.31,470.49 192.69,470.08" fill="#2a2a2a" opacity="0.5"/><circle cx="193.50" cy="471.20" r="1.3" fill="#181818"/>
<text transform="translate(31.60,523.20) scale(1,1.06)" font-size="9" text-anchor="end" fill="#2a2a2a" >0.0</text>
<text transform="translate(31.60,469.53) scale(1,1.06)" font-size="9" text-anchor="end" fill="#2a2a2a" >0.2</text>
<text transform="translate(31.60,415.87) scale(1,1.06)" font-size="9" text-anchor="end" fill="#2a2a2a" >0.4</text>
<text transform="translate(31.60,362.20) scale(1,1.06)" font-size="9" text-anchor="end" fill="#2a2a2a" >0.6</text>
<text transform="translate(31.60,309.20) scale(1,1.06)" font-size="9" text-anchor="end" fill="#2a2a2a" >1.6</text>
<text transform="translate(31.60,319.35) scale(1,1.06)" font-size="9" text-anchor="end" fill="#2a2a2a" >1.5</text>
<text transform="translate(31.60,329.50) scale(1,1.06)" font-size="9" text-anchor="end" fill="#2a2a2a" >1.4</text>
<text transform="translate(31.60,339.65) scale(1,1.06)" font-size="9" text-anchor="end" fill="#2a2a2a" >1.3</text>
<text transform="translate(31.60,349.80) scale(1,1.06)" font-size="9" text-anchor="end" fill="#2a2a2a" >1.2</text>
<text x="0.80" y="296.10" font-size="13.4" fill="#2a2a2a" stroke="#2a2a2a" stroke-width="0.25" >C</text>
<text x="118.90" y="296.00" font-size="13.70" fill="#2a2a2a" >Total aPT</text>
<text transform="translate(10.55,407.90) rotate(-90)" font-size="11.2" text-anchor="middle" fill="#2a2a2a" >Abstract Unit</text>
<text x="125.10" y="552.90" font-size="11.1" fill="#2a2a2a"  textLength="39.0" lengthAdjust="spacingAndGlyphs">Sample</text>
<rect x="308.45" y="504.40" width="4.50" height="11.16" fill="#ebebeb" stroke="#333" stroke-width="1.25"/>
<line x1="319.03" y1="508.00" x2="319.03" y2="504.30" stroke="#262626" stroke-width="1.00"/>
<line x1="317.63" y1="504.50" x2="320.43" y2="504.50" stroke="#333" stroke-width="1.2"/>
<rect x="316.78" y="508.10" width="4.50" height="7.48" fill="#ebebeb" stroke="#333" stroke-width="1.25"/>
<line x1="327.37" y1="501.30" x2="327.37" y2="492.10" stroke="#262626" stroke-width="1.00"/>
<line x1="325.97" y1="492.30" x2="328.77" y2="492.30" stroke="#333" stroke-width="1.2"/>
<rect x="325.12" y="501.40" width="4.50" height="14.20" fill="#ebebeb" stroke="#333" stroke-width="1.25"/>
<line x1="335.70" y1="503.10" x2="335.70" y2="496.50" stroke="#262626" stroke-width="1.00"/>
<line x1="334.30" y1="496.70" x2="337.10" y2="496.70" stroke="#333" stroke-width="1.2"/>
<rect x="333.45" y="503.20" width="4.50" height="12.42" fill="#ebebeb" stroke="#333" stroke-width="1.25"/>
<line x1="344.03" y1="482.40" x2="344.03" y2="467.70" stroke="#262626" stroke-width="1.00"/>
<line x1="342.63" y1="467.90" x2="345.43" y2="467.90" stroke="#333" stroke-width="1.2"/>
<rect x="341.78" y="482.50" width="4.50" height="33.14" fill="#ebebeb" stroke="#333" stroke-width="1.25"/>
<line x1="352.37" y1="482.20" x2="352.37" y2="471.40" stroke="#262626" stroke-width="1.00"/>
<line x1="350.97" y1="471.60" x2="353.76" y2="471.60" stroke="#333" stroke-width="1.2"/>
<rect x="350.12" y="482.30" width="4.50" height="33.36" fill="#ebebeb" stroke="#333" stroke-width="1.25"/>
<line x1="360.70" y1="473.30" x2="360.70" y2="436.40" stroke="#262626" stroke-width="1.00"/>
<line x1="359.30" y1="436.60" x2="362.10" y2="436.60" stroke="#333" stroke-width="1.2"/>
<rect x="358.45" y="473.40" width="4.50" height="42.28" fill="#ebebeb" stroke="#333" stroke-width="1.25"/>
<line x1="369.03" y1="440.10" x2="369.03" y2="420.50" stroke="#262626" stroke-width="1.00"/>
<line x1="367.63" y1="420.70" x2="370.43" y2="420.70" stroke="#333" stroke-width="1.2"/>
<rect x="366.78" y="440.20" width="4.50" height="75.50" fill="#ebebeb" stroke="#333" stroke-width="1.25"/>
<line x1="377.86" y1="338.10" x2="377.86" y2="335.40" stroke="#262626" stroke-width="1.00"/>
<line x1="376.46" y1="335.60" x2="379.26" y2="335.60" stroke="#333" stroke-width="1.2"/>
<rect x="375.61" y="338.20" width="4.50" height="177.52" fill="#ebebeb" stroke="#333" stroke-width="1.25"/>
<line x1="385.70" y1="476.40" x2="385.70" y2="464.20" stroke="#262626" stroke-width="1.00"/>
<line x1="384.30" y1="464.40" x2="387.10" y2="464.40" stroke="#333" stroke-width="1.2"/>
<rect x="383.45" y="476.50" width="4.50" height="39.24" fill="#ebebeb" stroke="#333" stroke-width="1.25"/>
<line x1="394.03" y1="471.50" x2="394.03" y2="454.20" stroke="#262626" stroke-width="1.00"/>
<line x1="392.63" y1="454.40" x2="395.43" y2="454.40" stroke="#333" stroke-width="1.2"/>
<rect x="391.78" y="471.60" width="4.50" height="44.16" fill="#ebebeb" stroke="#333" stroke-width="1.25"/>
<line x1="402.36" y1="429.10" x2="402.36" y2="411.50" stroke="#262626" stroke-width="1.00"/>
<line x1="400.96" y1="411.70" x2="403.76" y2="411.70" stroke="#333" stroke-width="1.2"/>
<rect x="400.11" y="429.20" width="4.50" height="86.58" fill="#ebebeb" stroke="#333" stroke-width="1.25"/>
<line x1="410.70" y1="478.20" x2="410.70" y2="467.20" stroke="#262626" stroke-width="1.00"/>
<line x1="409.30" y1="467.40" x2="412.10" y2="467.40" stroke="#333" stroke-width="1.2"/>
<rect x="408.45" y="478.30" width="4.50" height="37.50" fill="#ebebeb" stroke="#333" stroke-width="1.25"/>
<line x1="419.03" y1="473.30" x2="419.03" y2="463.00" stroke="#262626" stroke-width="1.00"/>
<line x1="417.63" y1="463.20" x2="420.43" y2="463.20" stroke="#333" stroke-width="1.2"/>
<rect x="416.78" y="473.40" width="4.50" height="42.42" fill="#ebebeb" stroke="#333" stroke-width="1.25"/>
<line x1="427.36" y1="493.50" x2="427.36" y2="485.50" stroke="#262626" stroke-width="1.00"/>
<line x1="425.96" y1="485.70" x2="428.76" y2="485.70" stroke="#333" stroke-width="1.2"/>
<rect x="425.11" y="493.60" width="4.50" height="22.24" fill="#ebebeb" stroke="#333" stroke-width="1.25"/>
<line x1="435.69" y1="463.00" x2="435.69" y2="454.40" stroke="#262626" stroke-width="1.00"/>
<line x1="434.30" y1="454.60" x2="437.09" y2="454.60" stroke="#333" stroke-width="1.2"/>
<rect x="433.44" y="463.10" width="4.50" height="52.76" fill="#ebebeb" stroke="#333" stroke-width="1.25"/>
<line x1="444.03" y1="489.60" x2="444.03" y2="479.70" stroke="#262626" stroke-width="1.00"/>
<line x1="442.63" y1="479.90" x2="445.43" y2="479.90" stroke="#333" stroke-width="1.2"/>
<rect x="441.78" y="489.70" width="4.50" height="26.18" fill="#ebebeb" stroke="#333" stroke-width="1.25"/>
<line x1="452.36" y1="498.40" x2="452.36" y2="494.40" stroke="#262626" stroke-width="1.00"/>
<line x1="450.96" y1="494.60" x2="453.76" y2="494.60" stroke="#333" stroke-width="1.2"/>
<rect x="450.11" y="498.50" width="4.50" height="17.40" fill="#ebebeb" stroke="#333" stroke-width="1.25"/>
<line x1="460.69" y1="481.90" x2="460.69" y2="463.60" stroke="#262626" stroke-width="1.00"/>
<line x1="459.29" y1="463.80" x2="462.09" y2="463.80" stroke="#333" stroke-width="1.2"/>
<rect x="458.44" y="482.00" width="4.50" height="33.92" fill="#ebebeb" stroke="#333" stroke-width="1.25"/>
<line x1="477.36" y1="497.50" x2="477.36" y2="492.50" stroke="#262626" stroke-width="1.00"/>
<line x1="475.96" y1="492.70" x2="478.76" y2="492.70" stroke="#333" stroke-width="1.2"/>
<rect x="475.11" y="497.60" width="4.50" height="18.36" fill="#ebebeb" stroke="#333" stroke-width="1.25"/>
<line x1="485.69" y1="500.30" x2="485.69" y2="489.40" stroke="#262626" stroke-width="1.00"/>
<line x1="484.29" y1="489.60" x2="487.09" y2="489.60" stroke="#333" stroke-width="1.2"/>
<rect x="483.44" y="500.40" width="4.50" height="15.58" fill="#ebebeb" stroke="#333" stroke-width="1.25"/>
<line x1="494.03" y1="506.60" x2="494.03" y2="500.30" stroke="#262626" stroke-width="1.00"/>
<line x1="492.63" y1="500.50" x2="495.43" y2="500.50" stroke="#333" stroke-width="1.2"/>
<rect x="491.78" y="506.70" width="4.50" height="9.30" fill="#ebebeb" stroke="#333" stroke-width="1.25"/>
<rect x="500.11" y="511.40" width="4.50" height="4.62" fill="#ebebeb" stroke="#333" stroke-width="1.25"/>
<line x1="510.69" y1="503.80" x2="510.69" y2="495.40" stroke="#262626" stroke-width="1.00"/>
<line x1="509.29" y1="495.60" x2="512.09" y2="495.60" stroke="#333" stroke-width="1.2"/>
<rect x="508.44" y="503.90" width="4.50" height="12.14" fill="#ebebeb" stroke="#333" stroke-width="1.25"/>
<line x1="305.30" y1="487.50" x2="517.50" y2="487.50" stroke="#222" stroke-width="1" stroke-dasharray="2.10 1.99" stroke-dashoffset="0.54"/>
<line x1="305.30" y1="302.00" x2="305.30" y2="342.40" stroke="#333" stroke-width="1.35"/>
<line x1="305.30" y1="354.90" x2="305.30" y2="516.15" stroke="#333" stroke-width="1.35"/>
<line x1="305.30" y1="342.40" x2="308.30" y2="342.40" stroke="#333" stroke-width="1.1"/>
<line x1="305.30" y1="354.90" x2="308.30" y2="354.90" stroke="#333" stroke-width="1.1"/>
<line x1="304.70" y1="515.55" x2="517.50" y2="516.06" stroke="#333" stroke-width="1.45"/>
<line x1="301.00" y1="515.55" x2="305.30" y2="515.55" stroke="#333" stroke-width="1"/>
<line x1="301.00" y1="462.00" x2="305.30" y2="462.00" stroke="#333" stroke-width="1"/>
<line x1="301.00" y1="408.45" x2="305.30" y2="408.45" stroke="#333" stroke-width="1"/>
<line x1="301.00" y1="354.90" x2="305.30" y2="354.90" stroke="#333" stroke-width="1"/>
<line x1="301.00" y1="302.00" x2="305.30" y2="302.00" stroke="#333" stroke-width="1"/>
<line x1="301.00" y1="312.10" x2="305.30" y2="312.10" stroke="#333" stroke-width="1"/>
<line x1="301.00" y1="322.20" x2="305.30" y2="322.20" stroke="#333" stroke-width="1"/>
<line x1="301.00" y1="332.30" x2="305.30" y2="332.30" stroke="#333" stroke-width="1"/>
<line x1="301.00" y1="342.40" x2="305.30" y2="342.40" stroke="#333" stroke-width="1"/>
<line x1="303.00" y1="504.84" x2="305.30" y2="504.84" stroke="#333" stroke-width="1"/>
<line x1="303.00" y1="494.13" x2="305.30" y2="494.13" stroke="#333" stroke-width="1"/>
<line x1="303.00" y1="483.42" x2="305.30" y2="483.42" stroke="#333" stroke-width="1"/>
<line x1="303.00" y1="472.71" x2="305.30" y2="472.71" stroke="#333" stroke-width="1"/>
<line x1="303.00" y1="451.29" x2="305.30" y2="451.29" stroke="#333" stroke-width="1"/>
<line x1="303.00" y1="440.58" x2="305.30" y2="440.58" stroke="#333" stroke-width="1"/>
<line x1="303.00" y1="429.87" x2="305.30" y2="429.87" stroke="#333" stroke-width="1"/>
<line x1="303.00" y1="419.16" x2="305.30" y2="419.16" stroke="#333" stroke-width="1"/>
<line x1="303.00" y1="397.74" x2="305.30" y2="397.74" stroke="#333" stroke-width="1"/>
<line x1="303.00" y1="387.03" x2="305.30" y2="387.03" stroke="#333" stroke-width="1"/>
<line x1="303.00" y1="376.32" x2="305.30" y2="376.32" stroke="#333" stroke-width="1"/>
<line x1="303.00" y1="365.61" x2="305.30" y2="365.61" stroke="#333" stroke-width="1"/>
<text transform="translate(312.80,519.87) rotate(-90)" font-size="8.9" text-anchor="end" fill="#2a2a2a" >P1a</text>
<text transform="translate(321.13,519.89) rotate(-90)" font-size="8.9" text-anchor="end" fill="#2a2a2a" >P1b</text>
<text transform="translate(329.47,519.91) rotate(-90)" font-size="8.9" text-anchor="end" fill="#2a2a2a" >P1c</text>
<text transform="translate(337.80,519.93) rotate(-90)" font-size="8.9" text-anchor="end" fill="#2a2a2a" >P2a</text>
<text transform="translate(346.13,519.95) rotate(-90)" font-size="8.9" text-anchor="end" fill="#2a2a2a" >P2b</text>
<text transform="translate(354.47,519.97) rotate(-90)" font-size="8.9" text-anchor="end" fill="#2a2a2a" >P2c</text>
<text transform="translate(362.80,519.99) rotate(-90)" font-size="8.9" text-anchor="end" fill="#2a2a2a" >P3</text>
<text transform="translate(371.13,520.01) rotate(-90)" font-size="8.9" text-anchor="end" fill="#2a2a2a" >P4</text>
<text transform="translate(379.46,520.03) rotate(-90)" font-size="8.9" text-anchor="end" fill="#2a2a2a" >P5</text>
<text transform="translate(387.80,520.05) rotate(-90)" font-size="8.9" text-anchor="end" fill="#2a2a2a" >P6a</text>
<text transform="translate(396.13,520.07) rotate(-90)" font-size="8.9" text-anchor="end" fill="#2a2a2a" >P6b</text>
<text transform="translate(404.46,520.09) rotate(-90)" font-size="8.9" text-anchor="end" fill="#2a2a2a" >P6c</text>
<text transform="translate(412.80,520.11) rotate(-90)" font-size="8.9" text-anchor="end" fill="#2a2a2a" >P7</text>
<text transform="translate(421.13,520.13) rotate(-90)" font-size="8.9" text-anchor="end" fill="#2a2a2a" >P8</text>
<text transform="translate(429.46,520.15) rotate(-90)" font-size="8.9" text-anchor="end" fill="#2a2a2a" >P9</text>
<text transform="translate(437.80,520.17) rotate(-90)" font-size="8.9" text-anchor="end" fill="#2a2a2a" >P10</text>
<text transform="translate(446.13,520.19) rotate(-90)" font-size="8.9" text-anchor="end" fill="#2a2a2a" >P11</text>
<text transform="translate(454.46,520.21) rotate(-90)" font-size="8.9" text-anchor="end" fill="#2a2a2a" >P12</text>
<text transform="translate(462.79,520.23) rotate(-90)" font-size="8.9" text-anchor="end" fill="#2a2a2a" >P13</text>
<text transform="translate(479.46,520.27) rotate(-90)" font-size="8.9" text-anchor="end" fill="#2a2a2a" >N1</text>
<text transform="translate(487.79,520.29) rotate(-90)" font-size="8.9" text-anchor="end" fill="#2a2a2a" >N2</text>
<text transform="translate(496.13,520.31) rotate(-90)" font-size="8.9" text-anchor="end" fill="#2a2a2a" >N3</text>
<text transform="translate(504.46,520.33) rotate(-90)" font-size="8.9" text-anchor="end" fill="#2a2a2a" >N4</text>
<text transform="translate(512.79,520.35) rotate(-90)" font-size="8.9" text-anchor="end" fill="#2a2a2a" >N5</text>
<polygon points="368.50,408.50 369.31,409.68 370.69,410.09 369.81,411.23 369.85,412.66 368.50,412.18 367.15,412.66 367.19,411.23 366.31,410.09 367.69,409.68" fill="#2a2a2a" opacity="0.5"/><circle cx="368.50" cy="410.80" r="1.3" fill="#181818"/>
<polygon points="377.90,322.20 378.71,323.38 380.09,323.79 379.21,324.93 379.25,326.36 377.90,325.88 376.55,326.36 376.59,324.93 375.71,323.79 377.09,323.38" fill="#2a2a2a" opacity="0.5"/><circle cx="377.90" cy="324.50" r="1.3" fill="#181818"/>
<polygon points="401.90,399.20 402.71,400.38 404.09,400.79 403.21,401.93 403.25,403.36 401.90,402.88 400.55,403.36 400.59,401.93 399.71,400.79 401.09,400.38" fill="#2a2a2a" opacity="0.5"/><circle cx="401.90" cy="401.50" r="1.3" fill="#181818"/>
<polygon points="418.30,450.50 419.11,451.68 420.49,452.09 419.61,453.23 419.65,454.66 418.30,454.18 416.95,454.66 416.99,453.23 416.11,452.09 417.49,451.68" fill="#2a2a2a" opacity="0.5"/><circle cx="418.30" cy="452.80" r="1.3" fill="#181818"/>
<polygon points="435.70,441.40 436.51,442.58 437.89,442.99 437.01,444.13 437.05,445.56 435.70,445.08 434.35,445.56 434.39,444.13 433.51,442.99 434.89,442.58" fill="#2a2a2a" opacity="0.5"/><circle cx="435.70" cy="443.70" r="1.3" fill="#181818"/>
<text transform="translate(298.70,518.55) scale(1,1.06)" font-size="9" text-anchor="end" fill="#2a2a2a" >0.0</text>
<text transform="translate(298.70,465.00) scale(1,1.06)" font-size="9" text-anchor="end" fill="#2a2a2a" >0.2</text>
<text transform="translate(298.70,411.45) scale(1,1.06)" font-size="9" text-anchor="end" fill="#2a2a2a" >0.4</text>
<text transform="translate(298.70,357.90) scale(1,1.06)" font-size="9" text-anchor="end" fill="#2a2a2a" >0.6</text>
<text transform="translate(298.70,305.00) scale(1,1.06)" font-size="9" text-anchor="end" fill="#2a2a2a" >1.6</text>
<text transform="translate(298.70,315.10) scale(1,1.06)" font-size="9" text-anchor="end" fill="#2a2a2a" >1.5</text>
<text transform="translate(298.70,325.20) scale(1,1.06)" font-size="9" text-anchor="end" fill="#2a2a2a" >1.4</text>
<text transform="translate(298.70,335.30) scale(1,1.06)" font-size="9" text-anchor="end" fill="#2a2a2a" >1.3</text>
<text transform="translate(298.70,345.40) scale(1,1.06)" font-size="9" text-anchor="end" fill="#2a2a2a" >1.2</text>
<text x="268.30" y="296.30" font-size="13.4" fill="#2a2a2a" stroke="#2a2a2a" stroke-width="0.25" >D</text>
<text x="390.60" y="296.00" font-size="13.70" fill="#2a2a2a" >IgG aPT</text>
<text transform="translate(278.55,404.10) rotate(-90)" font-size="11.2" text-anchor="middle" fill="#2a2a2a" >Abstract Unit</text>
<text x="391.80" y="548.80" font-size="11.1" fill="#2a2a2a"  textLength="39.0" lengthAdjust="spacingAndGlyphs">Sample</text>
<circle cx="174.9" cy="455.4" r="0.95" fill="#666"/>
</svg></body></html>
